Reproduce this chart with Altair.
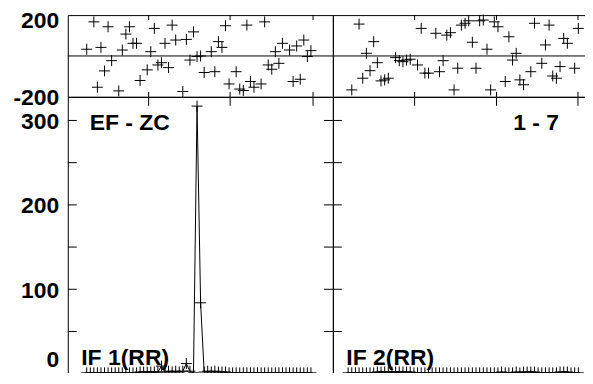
import altair as alt
import pandas as pd

# ---------------- data ----------------
channels = list(range(1, 65))

amp_if1 = [1, 1, 1, 1, 1, 1, 1, 1, 1, 1, 1, 1, 1, 1, 1,
           2, 2, 2, 2, 2,
           2, 9, 2,
           3, 2, 3, 2,
           3, 12, 3, 1,
           317, 84,
           2, 3, 2, 3, 2, 2, 2,
           1, 1, 1, 1, 1, 1, 1, 1, 1, 1, 1, 1,
           1, 1, 1, 1, 1, 1, 1, 1, 1, 1, 1, 1]

amp_if2 = [1, 1, 1, 1, 1, 1, 1, 1,
           2, 2, 2, 2, 2, 2, 2, 2, 2, 2,
           1, 1, 1, 1, 1, 1, 1, 1, 1, 1, 1,
           1, 1, 1, 1, 1, 1, 1, 1, 1, 1, 1,
           1, 1, 2, 1, 1, 1, 2, 1,
           2, 2, 2, 2,
           1, 1, 1, 1, 1, 1,
           2, 2, 2,
           1, 1, 1]

ph1_ch = [1, 3, 4, 5, 6, 7, 8, 10, 11, 12, 13, 14, 15, 16, 18, 19, 20, 21, 22, 23,
          24, 25, 26, 28, 29, 30, 31, 32, 33, 34, 36, 37, 38, 39, 40, 41, 43, 44, 45, 46,
          47, 48, 50, 51, 52, 53, 54, 55, 56, 58, 59, 60, 61, 62, 63, 64]
ph1_deg = [33, 167, -153, 42, -73, 143, -23, -171, 29, 107, 143, 62, 62, -120, -68, 21, 135, -44, -33, 62,
           -57, 151, 78, -174, 81, -20, 118, -3, 0, -81, 21, -77, 70, 42, 148, -137, -77, -162, -169, 151,
           -125, -153, -137, 167, -44, -65, 21, -36, 62, 29, -125, 49, -114, 78, -3, 26]

ph2_ch = [2, 4, 5, 6, 7, 8, 9, 10, 11, 12, 14, 15, 16, 17, 18, 20, 21, 22, 23, 25,
          26, 27, 28, 29, 30, 31, 32, 33, 34, 35, 36, 37, 38, 39, 40, 41, 42, 44, 45, 46,
          47, 48, 49, 51, 52, 54, 55, 56, 57, 58, 59, 60, 61, 63, 64]
ph2_deg = [-166, 156, -109, 13, -72, 70, -33, -122, -117, -109, -8, -23, -28, -20, -16, -44, 135, -84, -84, 111,
           -77, -23, 102, 114, -166, -60, 151, 160, 172, 67, -60, 172, 176, 33, -166, 167, 143, -125, 94, -20,
           13, -117, -141, -77, 160, -36, 54, 151, -98, -109, -52, 86, 62, -60, 135]

phase_labels = [-200, 200]
amp_ticks = [0, 50, 100, 150, 200, 250, 300]
amp_labels = [0, 100, 200, 300]
x_ticks_if1 = [18.4, 41.3, 64.6]
x_ticks_if2 = [19.2, 41.6, 63.9]
x_dom_if1 = [-4.32, 70.17]
x_dom_if2 = [-3.17, 69.37]
baseline_labels = ["EF - ZC", "1 - 7"]
if_labels = ["IF 1(RR)", "IF 2(RR)"]

# ---------------- style ----------------
W = 266
HP = 82
HA = 288
FONT = "Liberation Sans"
FS = 23
CROSS = "M-1,0L1,0M0,-1L0,1"


def yaxis(values, offset):
    return alt.Axis(values=values, labelFont=FONT, labelFontSize=FS, labelFontWeight="bold",
                    labelColor="black", labelPadding=9, ticks=False, tickSize=0, domain=False,
                    grid=False, title=None, labelOverlap=False, labelFlush=False,
                    labelExpr="'' + datum.value", labelOffset=offset)


def crosses(df, xf, yf, xs, ys, ax):
    return alt.Chart(df).mark_point(shape=CROSS, size=121, filled=False, color="black",
                                    strokeWidth=1, opacity=1).encode(
        x=alt.X(xf, scale=xs, axis=None),
        y=alt.Y(yf, scale=ys, axis=ax))


def xtick_rules(ticks, xs, y0, y1):
    return alt.Chart(pd.DataFrame({"t": ticks})).mark_rule(color="black", strokeWidth=1).encode(
        x=alt.X("t:Q", scale=xs, axis=None), y=alt.value(y0), y2=alt.value(y1))


def phase_panel(ch, deg, xdom, xticks, left):
    xs = alt.Scale(domain=xdom, nice=False, zero=False)
    ys = alt.Scale(domain=[-200, 200], nice=False, zero=False)
    off = {"condition": {"test": "datum.value > 0", "value": 5}, "value": 1}
    ax = yaxis(phase_labels, off) if left else None
    zero = alt.Chart(pd.DataFrame({"z": [0]})).mark_rule(color="black", strokeWidth=1).encode(
        y=alt.Y("z:Q", scale=ys, axis=ax))
    pts = crosses(pd.DataFrame({"ch": ch, "deg": deg}), "ch:Q", "deg:Q", xs, ys, ax)
    top = xtick_rules(xticks, xs, 0, 5)
    bot = xtick_rules(xticks, xs, HP - 5, HP)
    return alt.layer(zero, pts, top, bot).properties(width=W, height=HP)


def amp_panel(amps, xdom, xticks, left, blabel, balign, bx, iflabel):
    xs = alt.Scale(domain=xdom, nice=False, zero=False)
    ys = alt.Scale(domain=[-12, 328], nice=False, zero=False)
    off = {"condition": {"test": "datum.value == 0", "value": -14}, "value": 1}
    ax = yaxis(amp_labels, off) if left else None
    df = pd.DataFrame({"ch": channels, "amp": amps})
    line = alt.Chart(df).mark_line(color="black", strokeWidth=1).encode(
        x=alt.X("ch:Q", scale=xs, axis=None), y=alt.Y("amp:Q", scale=ys, axis=ax))
    pts = crosses(df, "ch:Q", "amp:Q", xs, ys, ax)
    tdf = pd.DataFrame({"v": amp_ticks})
    lt = alt.Chart(tdf).mark_rule(color="black", strokeWidth=1).encode(
        y=alt.Y("v:Q", scale=ys, axis=ax), x=alt.value(0), x2=alt.value(9))
    rt = alt.Chart(tdf).mark_rule(color="black", strokeWidth=1).encode(
        y=alt.Y("v:Q", scale=ys, axis=ax), x=alt.value(W - 9), x2=alt.value(W))
    top = xtick_rules(xticks, xs, 0, 9)
    bot = xtick_rules(xticks, xs, HA - 9, HA)
    t1 = alt.Chart(pd.DataFrame({"s": [blabel]})).mark_text(
        align=balign, baseline="alphabetic", font=FONT, fontSize=FS, fontWeight="bold",
        color="black").encode(text="s:N", x=alt.value(bx), y=alt.value(33.5))
    t2 = alt.Chart(pd.DataFrame({"s": [iflabel]})).mark_text(
        align="left", baseline="alphabetic", font=FONT, fontSize=FS, fontWeight="bold",
        color="black").encode(text="s:N", x=alt.value(13.5), y=alt.value(269))
    return alt.layer(line, pts, lt, rt, top, bot, t1, t2).properties(width=W, height=HA)


p1 = phase_panel(ph1_ch, ph1_deg, x_dom_if1, x_ticks_if1, True)
p2 = phase_panel(ph2_ch, ph2_deg, x_dom_if2, x_ticks_if2, False)
a1 = amp_panel(amp_if1, x_dom_if1, x_ticks_if1, True, baseline_labels[0], "left", 22, if_labels[0])
a2 = amp_panel(amp_if2, x_dom_if2, x_ticks_if2, False, baseline_labels[1], "right", 227, if_labels[1])

chart = alt.concat(p1, p2, a1, a2, columns=2, spacing=0).properties(
    align="each", bounds="flush",
    padding={"left": 4, "top": -0.5, "right": -14, "bottom": -12.5},
).configure(background="white").configure_view(stroke="black", strokeWidth=1)

chart.save("out.html", embed_options={"renderer": "svg", "actions": False})
